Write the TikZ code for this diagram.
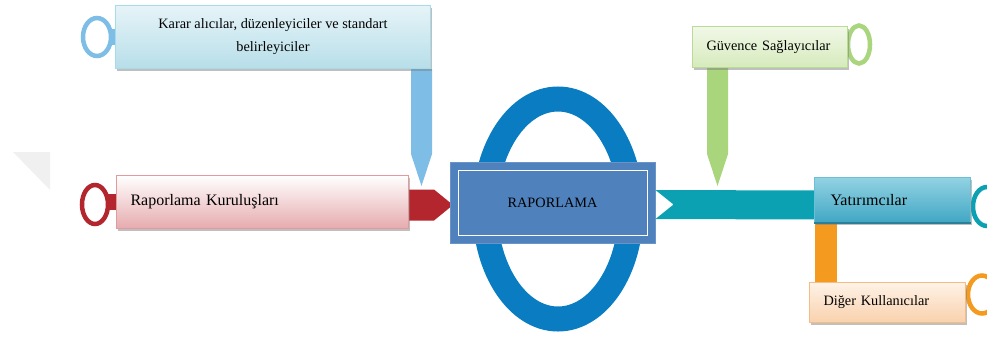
\documentclass[tikz,border=0pt]{standalone}
\usepackage{fontspec}
\setmainfont{Liberation Serif}
\usetikzlibrary{shadows,positioning,backgrounds}

\definecolor{kararblue}{HTML}{7DBDE6}
\definecolor{kararfillA}{HTML}{E6F4F8}
\definecolor{kararfillB}{HTML}{B7DEE9}
\definecolor{kararline}{HTML}{A6DCEA}
\definecolor{kurumred}{HTML}{B3262E}
\definecolor{kurumfillB}{HTML}{E6ABAE}
\definecolor{kurumline}{HTML}{E39A9C}
\definecolor{ringblue}{HTML}{0A7CC1}
\definecolor{raporblue}{HTML}{4F81BD}
\definecolor{yatteal}{HTML}{0BA1B2}
\definecolor{yatfillA}{HTML}{92D2E3}
\definecolor{yatfillB}{HTML}{41A7C4}
\definecolor{yatline}{HTML}{6CC0D6}
\definecolor{yatdark}{HTML}{2A7F99}
\definecolor{guvgreen}{HTML}{A9D57C}
\definecolor{guvfillA}{HTML}{F1F8E8}
\definecolor{guvfillB}{HTML}{D6EABC}
\definecolor{guvline}{HTML}{B9DB93}
\definecolor{digorange}{HTML}{F39A1F}
\definecolor{digfillA}{HTML}{FEF2E7}
\definecolor{digfillB}{HTML}{F9D1AC}
\definecolor{digline}{HTML}{F6BC86}

\begin{document}
\begin{tikzpicture}[x=1pt,y=-1pt,
    box/.style={rectangle, line width=1pt, anchor=north west, inner ysep=0pt,
        font=\fontsize{14.3}{23}\selectfont,
        drop shadow={shadow xshift=1.5pt, shadow yshift=-2.5pt, opacity=0.5, fill=gray}},
    bigtext/.style={font=\fontsize{16}{20}\selectfont},
    ring/.style={line width=4.5pt},
    stub/.style={line width=16pt}]
\useasboundingbox (0,0) rectangle (987,338);

% First the faint corner and the ring behind the report
\fill[gray!12] (13,152) -- (50,152) -- (50,190) -- cycle;
\coordinate (ringc) at (558,209);
\draw[ringblue, line width=25pt] (ringc) ellipse [x radius=73pt, y radius=110pt];

% Now the boxes, placed at their top left corners
\node[box, draw=kararline, top color=kararfillA, bottom color=kararfillB,
      minimum width=315pt, minimum height=63pt, align=center] (karar) at (115,5)
      {Karar alıcılar, düzenleyiciler ve standart\\belirleyiciler};
\node[box, bigtext, draw=kurumline, top color=white, bottom color=kurumfillB,
      text width=264pt, inner xsep=14pt, minimum height=53pt, align=left] (kurum) at (116,175)
      {Raporlama Kuruluşları};
\node[box, draw=guvline, top color=guvfillA, bottom color=guvfillB,
      text width=127pt, inner xsep=14pt, minimum height=41pt, align=left] (guv) at (692,26)
      {Güvence Sağlayıcılar};
\node[box, bigtext, draw=yatline, top color=yatfillA, bottom color=yatfillB,
      text width=124pt, inner xsep=16pt, minimum height=45pt, align=left] (yat) at (814,177)
      {Yatırımcılar};
\draw[yatdark, line width=1.5pt] (yat.south west) -- (yat.south east);
\node[box, draw=digline, top color=digfillA, bottom color=digfillB,
      text width=128pt, inner xsep=14pt, minimum height=40pt, align=left] (dig) at (809,282)
      {Diğer Kullanıcılar};

% now the report in the middle
\node[rectangle, fill=raporblue, draw=raporblue!85!white, line width=1pt,
      minimum width=205pt, minimum height=81pt, font=\fontsize{14.3}{16}\selectfont]
      (rapor) at ([shift={(-5.5,-6.5)}]ringc) {RAPORLAMA};
\draw[white, line width=1.8pt] ([shift={(9,9)}]rapor.north west) rectangle ([shift={(-8,-8)}]rapor.south east);

\begin{pgfonlayer}{background}
% Now the rings and stubs on the box ends
\draw[kararblue, ring] ([shift={(-18,0)}]karar.west) ellipse [x radius=14pt, y radius=19pt];
\draw[kararblue, stub] ([shift={(-6,0)}]karar.west) -- (karar.west);
\draw[kurumred, ring] ([shift={(-21,2.5)}]kurum.west) ellipse [x radius=13pt, y radius=19.5pt];
\draw[kurumred, stub] ([shift={(-9,0)}]kurum.west) -- (kurum.west);
\draw[guvgreen, ring] ([shift={(11,-2.5)}]guv.east) ellipse [x radius=11pt, y radius=19pt];
\draw[yatteal, ring] ([shift={(16,6.5)}]yat.east) ellipse [x radius=14pt, y radius=19.5pt];
\draw[digorange, ring] ([shift={(16,-8)}]dig.east) ellipse [x radius=14pt, y radius=19pt];

% Now the fat arrows between the boxes
\fill[kararblue] ([shift={(-20,0)}]karar.south east) -- ++(0,85) -- ++(10.5,32) -- ++(10.5,-32) -- ++(0,-85) -- cycle;
\fill[guvgreen] ([shift={(15,0)}]guv.south west) -- ++(0,86) -- ++(10.5,32) -- ++(10.5,-32) -- ++(0,-86) -- cycle;
\fill[kurumred] ([shift={(0,-12.5)}]kurum.east) -- ++(25,0) -- ++(19,15.5) -- ++(-19,15.5) -- ++(-25,0) -- cycle;
\fill[yatteal] ([shift={(0,-12.5)}]rapor.east) -- ([shift={(6,-9.5)}]yat.west) -- ([shift={(6,19.5)}]yat.west)
     -- ([shift={(0,16.5)}]rapor.east) -- ([shift={(18,2)}]rapor.east) -- cycle;
\fill[digorange] ([shift={(1,0)}]yat.south west) rectangle ([shift={(28,0)}]dig.north west);
\end{pgfonlayer}
\end{tikzpicture}
\end{document}
